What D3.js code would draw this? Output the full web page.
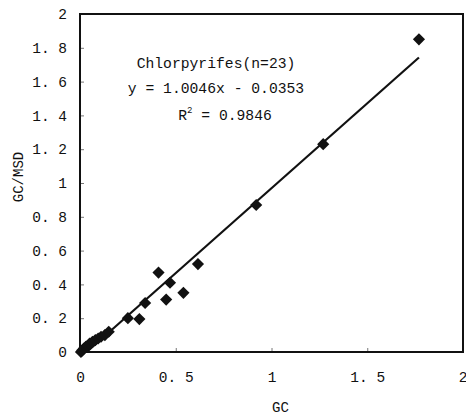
<!DOCTYPE html>
<html>
<head>
<meta charset="utf-8">
<script src="https://cdn.jsdelivr.net/npm/d3@7"></script>
<style>
  body { margin: 0; background: #fff; }
  text { font-family: "Liberation Mono", "DejaVu Sans Mono", monospace; fill: #111; }
</style>
</head>
<body>
<div id="chart-area"></div>
<script>
// data
const gcValues = [0.005, 0.012, 0.02, 0.03, 0.04, 0.05, 0.065, 0.08, 0.095, 0.11, 0.13, 0.15,
  0.25, 0.31, 0.34, 0.41, 0.45, 0.47, 0.54, 0.616, 0.92, 1.27, 1.77]
const msdValues = [0.0, 0.01, 0.02, 0.03, 0.035, 0.05, 0.06, 0.07, 0.08, 0.09, 0.1, 0.12,
  0.2, 0.195, 0.29, 0.47, 0.31, 0.41, 0.35, 0.52, 0.87, 1.23, 1.85]
const slope = 1.0046
const intercept = -0.0353
const xTicks = [0, 0.5, 1, 1.5, 2]
const yTicks = [0, 0.2, 0.4, 0.6, 0.8, 1, 1.2, 1.4, 1.6, 1.8, 2]
const annotation = ["Chlorpyrifes(n=23)", "y = 1.0046x - 0.0353"]

const MARGIN = { LEFT: 80, RIGHT: 3, TOP: 14, BOTTOM: 63 }
const WIDTH = 466 - MARGIN.LEFT - MARGIN.RIGHT
const HEIGHT = 415 - MARGIN.TOP - MARGIN.BOTTOM

const svg = d3.select("#chart-area").append("svg")
  .attr("width", 466)
  .attr("height", 415)

const g = svg.append("g")
  .attr("transform", `translate(${MARGIN.LEFT}, ${MARGIN.TOP})`)

// scales
const x = d3.scaleLinear().domain([0, 2]).range([0, WIDTH])
const y = d3.scaleLinear().domain([0, 2]).range([HEIGHT, 0])

// axes, ticks pointing inward
const xAxis = g.append("g")
  .attr("transform", `translate(0, ${HEIGHT})`)
  .call(d3.axisBottom(x).tickValues(xTicks).tickSizeInner(-4).tickSizeOuter(0)
    .tickPadding(20).tickFormat(d => d3.format("")(d).replace(".", ". ")))
const yAxis = g.append("g")
  .call(d3.axisLeft(y).tickValues(yTicks).tickSizeInner(-4).tickSizeOuter(0)
    .tickPadding(13).tickFormat(d => d3.format("")(d).replace(".", ". ")))

;[xAxis, yAxis].forEach(a => {
  a.select(".domain").remove()
  a.selectAll(".tick line").attr("stroke", "#777")
  a.selectAll(".tick text").attr("font-size", "14.5px")
    .style("font-family", "'Liberation Mono', monospace").attr("fill", "#111")
})
// last x label sits at the window edge
xAxis.selectAll(".tick text").filter(d => d === 2).attr("text-anchor", "end").attr("dx", 4)

// frame
g.append("rect")
  .attr("width", WIDTH)
  .attr("height", HEIGHT)
  .attr("fill", "none")
  .attr("stroke", "#111")
  .attr("stroke-width", 2)

// axis labels
g.append("text")
  .attr("x", WIDTH / 2 + 9)
  .attr("y", HEIGHT + 60)
  .attr("font-size", "14px")
  .attr("text-anchor", "middle")
  .text("GC")
g.append("text")
  .attr("transform", "rotate(-90)")
  .attr("x", -(HEIGHT / 2) + 6)
  .attr("y", -57)
  .attr("font-size", "14px")
  .attr("text-anchor", "middle")
  .text("GC/MSD")

// trend line
const xExt = d3.extent(gcValues)
const line = d3.line().x(d => x(d)).y(d => y(Math.max(0, slope * d + intercept)))
g.append("path")
  .attr("d", line([Math.max(xExt[0], -intercept / slope), xExt[1]]))
  .attr("fill", "none")
  .attr("stroke", "#111")
  .attr("stroke-width", 2.2)

// points as diamonds
const diamond = d3.symbol().type(d3.symbolSquare).size(74)
g.selectAll(".pt")
  .data(gcValues.map((v, i) => ({ gc: v, msd: msdValues[i] })))
  .enter().append("path")
  .attr("class", "pt")
  .attr("d", diamond)
  .attr("fill", "#111")
  .attr("transform", d => `translate(${x(d.gc)}, ${y(d.msd)}) rotate(45)`)

// annotation
annotation.forEach((t, i) => {
  g.append("text")
    .attr("x", 136)
    .attr("y", 54 + i * 25)
    .attr("font-size", "14.7px")
    .attr("text-anchor", "middle")
    .text(t)
})
const r2 = g.append("text")
  .attr("x", 145)
  .attr("y", 106)
  .attr("font-size", "14.7px")
  .attr("text-anchor", "middle")
r2.append("tspan").text("R")
r2.append("tspan").attr("dy", -7).attr("font-size", "9px").text("2")
r2.append("tspan").attr("dy", 7).text(" = 0.9846")
</script>
</body>
</html>
